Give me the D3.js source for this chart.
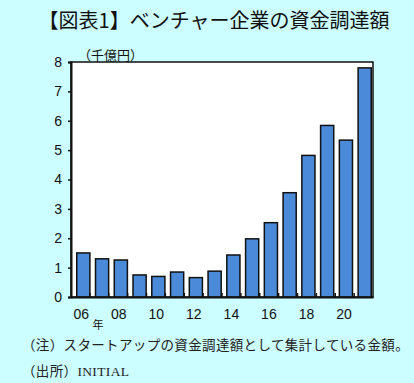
<!DOCTYPE html>
<html>
<head>
<meta charset="utf-8">
<script src="https://cdn.jsdelivr.net/npm/d3@7"></script>
<style>
  html, body { margin: 0; padding: 0; background: #ccfdff; }
  svg { display: block; }
</style>
</head>
<body>
<script>
// 年別のベンチャー企業資金調達額（千億円）
const years = ["06","07","08","09","10","11","12","13","14","15","16","17","18","19","20","21"];
const values = [1.50, 1.30, 1.26, 0.75, 0.70, 0.85, 0.66, 0.88, 1.43, 1.98, 2.53, 3.55, 4.82, 5.84, 5.34, 7.80];
const yTicks = [0, 1, 2, 3, 4, 5, 6, 7, 8];
const xLabelYears = ["06","08","10","12","14","16","18","20"];

const W = 414, H = 383;
const margin = { left: 71, right: 41, top: 62, bottom: 86 };
const plotW = W - margin.left - margin.right;
const plotH = H - margin.top - margin.bottom;

const svg = d3.select("body").append("svg").attr("width", W).attr("height", H);
svg.append("rect").attr("width", W).attr("height", H).attr("fill", "#ccfdff");

const sansJP = "'Noto Sans CJK JP', sans-serif";
const narrow = "'Liberation Sans Narrow', 'Liberation Sans', Arial, sans-serif";
const serifJP = "'Liberation Serif', 'Noto Sans CJK JP', serif";

// タイトル
svg.append("text")
  .attr("x", 214).attr("y", 28)
  .attr("text-anchor", "middle")
  .attr("font-family", sansJP).attr("font-size", 20).attr("font-weight", 400)
  .attr("fill", "#111")
  .text("【図表1】ベンチャー企業の資金調達額");

const g = svg.append("g").attr("transform", `translate(${margin.left},${margin.top})`);

const x = d3.scaleBand().domain(years).range([0, plotW]).paddingInner(0.3).paddingOuter(0.2);
const y = d3.scaleLinear().domain([0, 8]).range([plotH, 0]);

// 描画領域
g.append("rect").attr("width", plotW).attr("height", plotH)
  .attr("fill", "#fff").attr("stroke", "#111").attr("stroke-width", 1.5);

// 棒
g.selectAll("rect.bar").data(values).join("rect")
  .attr("class", "bar")
  .attr("x", (d, i) => x(years[i]) + 2)
  .attr("y", d => y(d))
  .attr("width", x.bandwidth())
  .attr("height", d => y(0) - y(d))
  .attr("fill", "#4a8ad9").attr("stroke", "#111").attr("stroke-width", 1.5);

// 区切りの目盛り（内向き）
const step = plotW / years.length;
g.selectAll("line.cat").data(d3.range(1, years.length)).join("line")
  .attr("class", "cat")
  .attr("x1", d => d * step).attr("x2", d => d * step)
  .attr("y1", plotH).attr("y2", plotH - 4)
  .attr("stroke", "#111").attr("stroke-width", 1.5);

// Y軸
const yAxis = g.append("g").call(
  d3.axisLeft(y).tickValues(yTicks).tickSize(3).tickPadding(6).tickFormat(d3.format("d"))
);
yAxis.select(".domain").attr("stroke", "#111").attr("stroke-width", 2);
yAxis.selectAll(".tick line").attr("stroke", "#111").attr("stroke-width", 1.5);
yAxis.selectAll("text").attr("font-family", narrow).attr("font-size", 14).attr("fill", "#111");

// X軸ラベル
const xAxis = g.append("g").attr("transform", `translate(0,${plotH})`).call(
  d3.axisBottom(x).tickValues(xLabelYears).tickSize(0).tickPadding(12)
);
xAxis.select(".domain").attr("stroke", "#111").attr("stroke-width", 2);
xAxis.selectAll(".tick").attr("transform", d => `translate(${x(d) + x.bandwidth() / 2},0)`);
xAxis.selectAll("text").attr("font-family", narrow).attr("font-size", 14).attr("fill", "#111");

// 年
svg.append("text")
  .attr("x", 98).attr("y", 329)
  .attr("text-anchor", "middle")
  .attr("font-family", sansJP).attr("font-size", 11).attr("fill", "#111")
  .text("年");

// 単位
svg.append("text")
  .attr("x", 78).attr("y", 60)
  .attr("font-family", sansJP).attr("font-size", 13).attr("fill", "#111")
  .text("（千億円）");

// 注記・出所
svg.append("text")
  .attr("x", 22).attr("y", 350)
  .attr("font-family", serifJP).attr("font-size", 13.5).attr("letter-spacing", 0.35).attr("fill", "#222")
  .text("（注）スタートアップの資金調達額として集計している金額。");
svg.append("text")
  .attr("x", 22).attr("y", 376)
  .attr("font-family", serifJP).attr("font-size", 13.5).attr("letter-spacing", 0.35).attr("fill", "#222")
  .text("（出所）INITIAL");
</script>
</body>
</html>
